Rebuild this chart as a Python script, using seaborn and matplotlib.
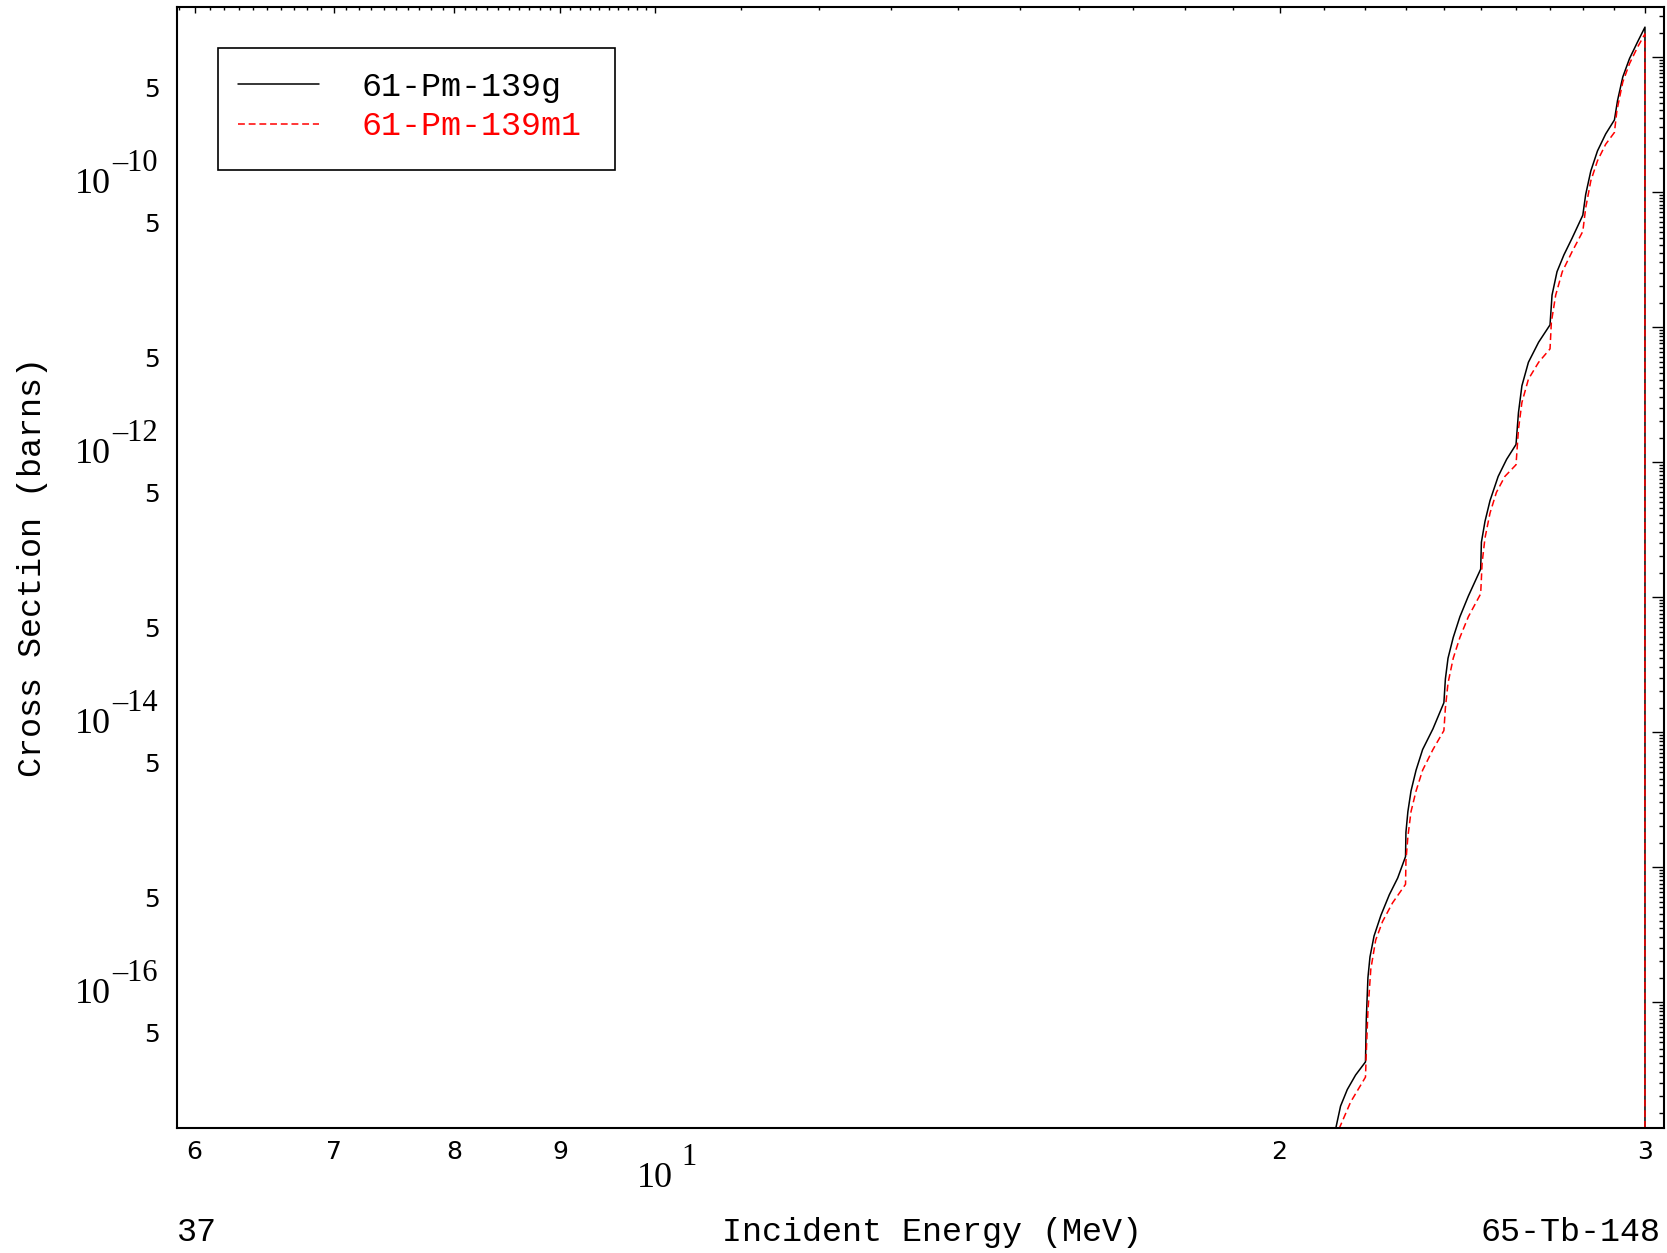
import numpy as np
import pandas as pd
import matplotlib
matplotlib.use("Agg")
import matplotlib.pyplot as plt
from matplotlib.patches import Rectangle
import seaborn as sns

# cross sections (energy in MeV, cross section in barns)
energy_g = [21.23, 21.29, 21.40, 21.56, 21.76, 22.0, 22.02, 22.06, 22.11, 22.21,
            22.38, 22.59, 22.80, 23.0, 23.01, 23.06, 23.14, 23.27, 23.44, 23.71,
            24.0, 24.04, 24.11, 24.25, 24.43, 24.66, 25.0, 25.02, 25.12, 25.26,
            25.49, 25.73, 26.0, 26.07, 26.17, 26.36, 26.66, 27.0, 27.06, 27.21,
            27.42, 27.67, 28.0, 28.09, 28.25, 28.46, 28.72, 29.0, 29.10, 29.27,
            29.49, 29.76, 30.0, 30.0]
xs_g = [6.72e-18, 1.17e-17, 1.69e-17, 2.24e-17, 2.87e-17, 3.59e-17, 7.44e-17, 1.51e-16, 2.15e-16, 3.07e-16,
        4.37e-16, 6.21e-16, 8.25e-16, 1.19e-15, 1.80e-15, 2.56e-15, 3.64e-15, 5.19e-15, 7.38e-15, 1.05e-14,
        1.64e-14, 2.46e-14, 3.50e-14, 4.99e-14, 7.10e-14, 1.01e-13, 1.60e-13, 2.53e-13, 3.61e-13, 5.14e-13,
        7.77e-13, 1.04e-12, 1.34e-12, 2.30e-12, 3.64e-12, 5.44e-12, 7.66e-12, 1.03e-11, 1.71e-11, 2.55e-11,
        3.40e-11, 4.52e-11, 6.68e-11, 9.52e-11, 1.42e-10, 2.00e-10, 2.67e-10, 3.39e-10, 4.72e-10, 7.05e-10,
        9.66e-10, 1.29e-9, 1.65e-9, 1e-20]

energy_m1 = [21.29, 21.35, 21.64, 22.0, 22.02, 22.06, 22.13, 22.25, 22.42, 22.67,
             23.0, 23.01, 23.06, 23.14, 23.27, 23.44, 23.71, 24.0, 24.04, 24.11,
             24.25, 24.43, 24.66, 25.0, 25.04, 25.12, 25.26, 25.44, 25.68, 26.0,
             26.07, 26.17, 26.36, 26.66, 27.0, 27.04, 27.17, 27.37, 27.67, 28.0,
             28.09, 28.25, 28.46, 28.72, 29.0, 29.08, 29.27, 29.49, 29.76, 30.0, 30.0]
xs_m1 = [7.97e-18, 1.12e-17, 1.81e-17, 2.77e-17, 4.23e-17, 8.58e-17, 1.74e-16, 2.86e-16, 3.93e-16, 5.40e-16,
         7.42e-16, 1.10e-15, 1.67e-15, 2.56e-15, 3.64e-15, 5.19e-15, 7.38e-15, 1.02e-14, 1.50e-14, 2.29e-14,
         3.50e-14, 4.99e-14, 7.10e-14, 1.05e-13, 1.78e-13, 2.72e-13, 4.16e-13, 5.92e-13, 7.77e-13, 9.48e-13,
         1.73e-12, 2.74e-12, 4.08e-12, 5.44e-12, 6.84e-12, 1.08e-11, 1.71e-11, 2.55e-11, 3.59e-11, 5.07e-11,
         7.56e-11, 1.20e-10, 1.69e-10, 2.24e-10, 2.74e-10, 3.98e-10, 6.47e-10, 8.86e-10, 1.18e-9, 1.47e-9, 1e-20]

# tick labels
x_small_ticks = [6, 7, 8, 9, 20, 30]
x_small_labels = ["6", "7", "8", "9", "2", "3"]
x_decade = 10
x_decade_exp = "1"
y_decades = [1e-9, 1e-10, 1e-11, 1e-12, 1e-13, 1e-14, 1e-15, 1e-16]
y_big_ticks = [1e-10, 1e-12, 1e-14, 1e-16]
y_big_exps = ["\u201310", "\u201312", "\u201314", "\u201316"]
y_five_ticks = [5e-10, 5e-11, 5e-12, 5e-13, 5e-14, 5e-15, 5e-16, 5e-17]

sns.set_style("white")
plt.rcParams["font.family"] = ["Liberation Mono", "DejaVu Sans"]
plt.rcParams["text.color"] = "black"
plt.rcParams["axes.labelcolor"] = "black"

fig = plt.figure(figsize=(16.67, 12.53), dpi=100)
ax = fig.add_axes([0.1062, 0.0998, 0.8920, 0.8947])

df_g = pd.DataFrame({"energy": energy_g, "xs": xs_g})
df_m1 = pd.DataFrame({"energy": energy_m1, "xs": xs_m1})
sns.lineplot(data=df_g, x="energy", y="xs", estimator=None, sort=False,
             color="black", lw=1.1, label="61-Pm-139g", ax=ax)
sns.lineplot(data=df_m1, x="energy", y="xs", estimator=None, sort=False,
             color="red", lw=1.1, linestyle=(0, (4.5, 2.5)), label="61-Pm-139m1", ax=ax)

ax.set_xscale("log")
ax.set_yscale("log")

# ticks
x_minor = [round(v, 1) for v in np.arange(5.9, 10.0, 0.1) if abs(v - round(v)) > 1e-6]
x_minor += [v for v in range(11, 30) if v != 20]
ax.set_xticks(x_small_ticks + [x_decade])
ax.set_xticks(x_minor, minor=True)
y_minor = [m * 10.0 ** k for k in range(-18, -8) for m in np.arange(1.5, 10.0, 0.5)]
ax.set_yticks(y_decades)
ax.set_yticks(y_minor, minor=True)
for axis in (ax.xaxis, ax.yaxis):
    axis.set_major_formatter(matplotlib.ticker.NullFormatter())
    axis.set_minor_formatter(matplotlib.ticker.NullFormatter())
ax.set_xlim(5.884, 30.64)
ax.set_ylim(1.164e-17, 2.33e-9)

ax.tick_params(which="both", direction="in", top=True, right=True, color="black", width=1.0)
ax.tick_params(axis="x", which="major", length=4.3)
ax.tick_params(axis="x", which="minor", length=2.5)
ax.tick_params(axis="y", which="major", length=8.4)
ax.tick_params(axis="y", which="minor", length=3.6)
for t in ax.xaxis.get_major_ticks():
    if abs(t.get_loc() - x_decade) < 1e-9:
        t.tick1line.set_markersize(8.4)
        t.tick2line.set_markersize(8.4)

for s in ax.spines.values():
    s.set_color("black")
    s.set_linewidth(1.5)

# tick labels
serif = "Liberation Serif"
for v, lab in zip(x_small_ticks, x_small_labels):
    ax.annotate(lab, xy=(v, 0), xycoords=("data", "axes fraction"), xytext=(0, -24),
                textcoords="offset pixels", ha="center", va="center", fontsize=18,
                family="DejaVu Sans")
ax.annotate("10", xy=(x_decade, 0), xycoords=("data", "axes fraction"), xytext=(0, -59),
            textcoords="offset pixels", ha="center", va="baseline", fontsize=26, family=serif)
ax.annotate(x_decade_exp, xy=(x_decade, 0), xycoords=("data", "axes fraction"), xytext=(26, -37),
            textcoords="offset pixels", ha="left", va="baseline", fontsize=22, family=serif)
for v, e in zip(y_big_ticks, y_big_exps):
    ax.annotate("10", xy=(0, v), xycoords=("axes fraction", "data"), xytext=(-66, -1),
                textcoords="offset pixels", ha="right", va="baseline", fontsize=26, family=serif)
    ax.annotate(e, xy=(0, v), xycoords=("axes fraction", "data"), xytext=(-65, 21),
                textcoords="offset pixels", ha="left", va="baseline", fontsize=22, family=serif)
for v in y_five_ticks:
    ax.annotate("5", xy=(0, v), xycoords=("axes fraction", "data"), xytext=(-17, 7),
                textcoords="offset pixels", ha="right", va="center", fontsize=18,
                family="DejaVu Sans")

# axis titles and corner labels
ax.set_xlabel("")
ax.set_ylabel("Cross Section (barns)", fontsize=24)
ax.yaxis.set_label_coords(-0.0969, 0.5)
ax.yaxis.label.set_va("center")
ax.annotate("37", xy=(0, 0), xycoords="axes fraction", xytext=(0, -113),
            textcoords="offset pixels", ha="left", va="baseline", fontsize=24)
ax.annotate("Incident Energy (MeV)", xy=(0.5075, 0), xycoords="axes fraction", xytext=(0, -113),
            textcoords="offset pixels", ha="center", va="baseline", fontsize=24)
ax.annotate("65-Tb-148", xy=(1, 0), xycoords="axes fraction", xytext=(-3, -113),
            textcoords="offset pixels", ha="right", va="baseline", fontsize=24)

# legend entries without frame, box drawn separately
leg = ax.legend(loc="upper left", bbox_to_anchor=(0.041, 0.942), borderaxespad=0,
                fontsize=24, handlelength=2.43, handletextpad=1.27, borderpad=0,
                labelspacing=0.25, frameon=False, labelcolor=["black", "red"])
ax.add_patch(Rectangle((0.0276, 0.8546), 0.2670, 0.1090, transform=ax.transAxes,
                       fill=False, edgecolor="black", lw=1.2, zorder=5))

fig.savefig("out.png", dpi=100)
